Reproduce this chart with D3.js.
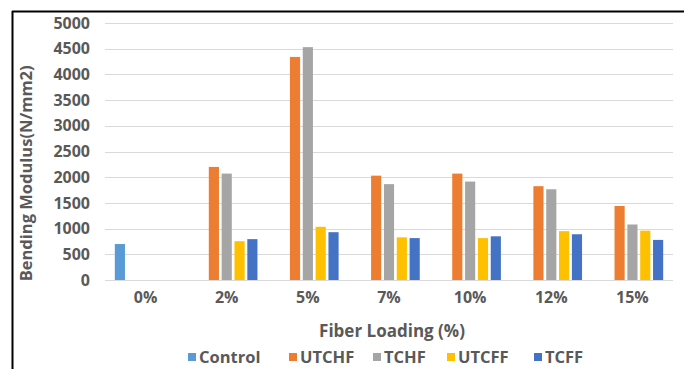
<!DOCTYPE html>
<html>
<head>
<meta charset="utf-8">
<script src="https://cdn.jsdelivr.net/npm/d3@7"></script>
<style>
  html, body { margin: 0; padding: 0; background: #fff; }
  svg { display: block; }
  text { font-family: "Open Sans", Lato, sans-serif; font-weight: bold; fill: #595959; }
</style>
</head>
<body>
<svg id="chart" width="684" height="369"></svg>
<script>
const categories = ["0%", "2%", "5%", "7%", "10%", "12%", "15%"];
const seriesNames = ["Control", "UTCHF", "TCHF", "UTCFF", "TCFF"];
const control = [700, null, null, null, null, null, null];
const utchf   = [null, 2200, 4340, 2030, 2070, 1825, 1440];
const tchf    = [null, 2070, 4530, 1865, 1915, 1765, 1080];
const utcff   = [null, 755, 1035, 830, 815, 950, 960];
const tcff    = [null, 795, 930, 815, 850, 890, 780];
const yTicks  = [0, 500, 1000, 1500, 2000, 2500, 3000, 3500, 4000, 4500, 5000];
const colors  = ["#5B9BD5", "#ED7D31", "#A5A5A5", "#FFC000", "#4472C4"];

const seriesValues = [control, utchf, tchf, utcff, tcff];

const svg = d3.select("#chart");
const W = 684, H = 369;
const plot = { left: 105, right: 673, top: 23, bottom: 280 };

const x0 = d3.scaleBand().domain(categories).range([plot.left, plot.right]).padding(0);
const groupW = 61.5;
const bw0 = x0.bandwidth();
const x1 = d3.scaleBand().domain(seriesNames)
  .range([(bw0 - groupW) / 2, (bw0 + groupW) / 2]).paddingInner(0.21).paddingOuter(0);
const y = d3.scaleLinear().domain([0, 5000]).range([plot.bottom, plot.top]);
const color = d3.scaleOrdinal().domain(seriesNames).range(colors);

// frame
svg.append("line").attr("x1", 12).attr("x2", W).attr("y1", 11.5).attr("y2", 11.5)
  .attr("stroke", "#000").attr("stroke-width", 2);
svg.append("line").attr("x1", 12.5).attr("x2", 12.5).attr("y1", 11).attr("y2", H)
  .attr("stroke", "#000").attr("stroke-width", 2);

// gridlines
svg.append("g").selectAll("line").data(yTicks).join("line")
  .attr("x1", plot.left).attr("x2", plot.right)
  .attr("y1", d => Math.round(y(d)) + 0.5).attr("y2", d => Math.round(y(d)) + 0.5)
  .attr("stroke", "#D9D9D9").attr("stroke-width", 1);

// y axis labels
const yAxis = d3.axisLeft(y).tickValues(yTicks).tickFormat(d3.format("d")).tickSize(0).tickPadding(0);
const gy = svg.append("g").attr("transform", "translate(90,0)").call(yAxis);
gy.select(".domain").remove();
gy.selectAll("text").style("font-size", "16px").attr("fill", "#595959")
  .style("font-family", "'Open Sans', sans-serif").style("font-weight", "bold");

// x axis labels
const xAxis = d3.axisBottom(x0).tickSize(0).tickPadding(0);
const gx = svg.append("g").attr("transform", "translate(0,292)").call(xAxis);
gx.select(".domain").remove();
gx.selectAll("text").style("font-size", "16px").attr("fill", "#595959")
  .style("font-family", "'Open Sans', sans-serif").style("font-weight", "bold");

// bars
const barData = [];
categories.forEach((c, i) => {
  seriesNames.forEach((s, j) => {
    const v = seriesValues[j][i];
    if (v != null) barData.push({ c, s, v });
  });
});
svg.append("g").selectAll("rect").data(barData).join("rect")
  .attr("x", d => x0(d.c) + x1(d.s))
  .attr("width", x1.bandwidth())
  .attr("y", d => y(d.v))
  .attr("height", d => y(0) - y(d.v))
  .attr("fill", d => color(d.s));

// axis titles
svg.append("text")
  .attr("transform", `translate(32,${(61.7 + 285) / 2}) rotate(-90)`)
  .attr("text-anchor", "middle")
  .style("font-size", "16.5px")
  .text("Bending Modulus(N/mm2)");

svg.append("text")
  .attr("x", 392).attr("y", 337)
  .attr("text-anchor", "middle")
  .style("font-size", "17px")
  .text("Fiber Loading (%)");

// legend
const legendX = [188, 289, 373, 447, 534];
const lg = svg.append("g");
seriesNames.forEach((s, i) => {
  const g = lg.append("g").attr("transform", `translate(${legendX[i]},353)`);
  g.append("rect").attr("x", 0).attr("y", 0).attr("width", 8).attr("height", 8).attr("fill", color(s));
  g.append("text").attr("x", 11).attr("y", 10).style("font-size", "16.5px").text(s);
});
</script>
</body>
</html>
